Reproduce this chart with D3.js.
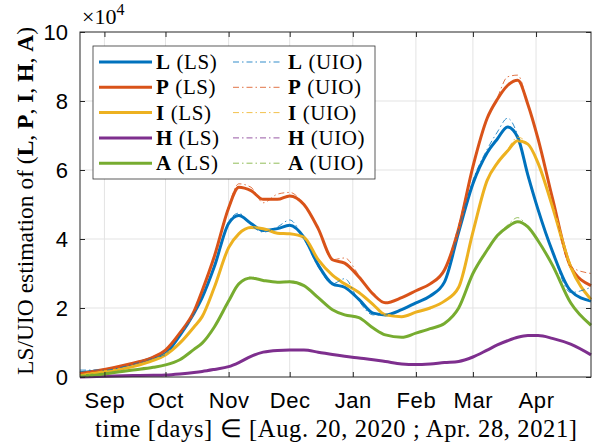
<!DOCTYPE html>
<html><head><meta charset="utf-8">
<script src="https://cdn.jsdelivr.net/npm/d3@7"></script>
<style>body{margin:0;background:#fff} svg{display:block}</style>
</head><body><svg id="c" width="604" height="448"></svg>
<script>
const startDate = "2020-08-20";
const endDate = "2021-04-28";
// days since Aug 20, 2020
const dayOffsets = [0,12,26,36,42,49,56,60,66,73,78,84,90,97,103,110,117,124,130,137,144,150,158,165,172,179,186,193,200,205,210,215,220,225,232,241,251];
const monthTicks = ["2020-09-01","2020-10-01","2020-11-01","2020-12-01","2021-01-01","2021-02-01","2021-03-01","2021-04-01"];
const monthLabels = ["Sep","Oct","Nov","Dec","Jan","Feb","Mar","Apr"];
const yTicks = [0,2,4,6,8,10];
const seriesNames = ["L","P","I","H","A"];
const seriesColors = ["#0072BD","#D95319","#EDB120","#7E2F8E","#77AC30"];
// values in units of 10^4
const L_LS = [0.12,0.2,0.38,0.55,0.68,1.2,1.85,2.3,3.2,4.45,4.68,4.45,4.25,4.3,4.4,4.05,3.25,2.7,2.6,2.25,1.85,1.8,1.95,2.15,2.35,2.75,4.2,5.6,6.5,6.9,7.25,6.95,5.85,4.85,3.65,2.5,2.2];
const P_LS = [0.1,0.22,0.4,0.58,0.78,1.27,1.9,2.5,3.5,4.9,5.5,5.4,5.15,5.15,5.25,5.0,4.3,3.4,3.3,2.9,2.4,2.15,2.3,2.5,2.7,3.1,4.3,6.1,7.5,8.05,8.45,8.6,7.9,6.9,5.2,3.2,2.65];
const I_LS = [0.05,0.15,0.3,0.48,0.64,0.98,1.45,1.75,2.6,3.75,4.15,4.33,4.3,4.17,4.15,4.05,3.4,2.95,2.7,2.45,2.1,1.8,1.75,1.88,2.0,2.2,2.6,4.2,5.7,6.2,6.55,6.85,6.75,6.2,4.95,3.2,2.25];
const H_LS = [0.0,0.02,0.04,0.05,0.06,0.09,0.13,0.16,0.22,0.3,0.42,0.6,0.72,0.77,0.78,0.78,0.72,0.65,0.6,0.55,0.5,0.45,0.38,0.36,0.38,0.42,0.45,0.58,0.78,0.93,1.05,1.15,1.2,1.2,1.12,0.95,0.64];
const A_LS = [0.03,0.09,0.2,0.28,0.35,0.5,0.8,0.98,1.45,2.2,2.7,2.87,2.8,2.75,2.76,2.65,2.3,1.95,1.8,1.72,1.42,1.22,1.15,1.27,1.4,1.55,2.0,3.0,3.68,4.1,4.35,4.5,4.35,3.95,3.25,2.15,1.5];
const L_UIO = [0.2,0.2,0.38,0.55,0.65,1.2,1.85,2.3,3.2,4.5,4.75,4.4,4.2,4.35,4.55,4.0,3.2,2.7,2.85,2.2,1.8,1.8,1.95,2.15,2.35,2.75,4.3,5.7,6.6,7.1,7.5,7.0,5.8,4.85,3.65,2.45,2.6];
const P_UIO = [0.1,0.22,0.4,0.58,0.8,1.27,1.9,2.5,3.5,4.95,5.6,5.5,5.05,5.3,5.35,5.0,4.3,3.4,3.45,2.95,2.4,2.15,2.3,2.5,2.7,3.1,4.4,6.1,7.5,8.1,8.7,8.75,7.9,6.9,5.2,3.2,3.0];
const I_UIO = [0.05,0.15,0.3,0.48,0.64,0.98,1.45,1.75,2.6,3.75,4.15,4.35,4.3,4.17,4.15,4.05,3.4,2.95,2.7,2.45,2.1,1.8,1.75,1.88,2.0,2.2,2.6,4.2,5.7,6.2,6.6,6.95,6.75,6.2,4.95,3.2,2.25];
const H_UIO = [0.0,0.02,0.04,0.05,0.06,0.09,0.13,0.16,0.22,0.3,0.42,0.6,0.72,0.77,0.78,0.78,0.72,0.65,0.6,0.55,0.5,0.45,0.38,0.36,0.38,0.42,0.45,0.58,0.78,0.93,1.05,1.15,1.2,1.2,1.12,0.95,0.64];
const A_UIO = [0.03,0.09,0.2,0.28,0.35,0.5,0.8,0.98,1.45,2.2,2.7,2.9,2.8,2.75,2.78,2.65,2.3,1.95,1.8,1.72,1.42,1.22,1.15,1.27,1.4,1.55,2.0,3.0,3.68,4.1,4.4,4.62,4.35,3.95,3.25,2.15,1.5];
const LS = [L_LS,P_LS,I_LS,H_LS,A_LS];
const UIO = [L_UIO,P_UIO,I_UIO,H_UIO,A_UIO];

const FONT = "'Liberation Serif','Times New Roman',serif";
const svg = d3.select("#c");
const M = {l:80, r:591, t:32, b:377};
const parse = d3.utcParse("%Y-%m-%d");
const t0 = parse(startDate);
const dates = dayOffsets.map(d => d3.utcDay.offset(t0, d));
const x = d3.scaleUtc().domain([t0, parse(endDate)]).range([M.l, M.r]);
const y = d3.scaleLinear().domain([0,10]).range([M.b, M.t]);

// grid
const g = svg.append("g");
g.selectAll(".gx").data(monthTicks).join("line")
  .attr("x1", d=>x(parse(d))).attr("x2", d=>x(parse(d)))
  .attr("y1", M.t).attr("y2", M.b).attr("stroke","#e3e3e3").attr("stroke-width",1);
g.selectAll(".gy").data(yTicks.slice(1,-1)).join("line")
  .attr("x1", M.l).attr("x2", M.r).attr("y1", d=>y(d)).attr("y2", d=>y(d))
  .attr("stroke","#e3e3e3").attr("stroke-width",1);

// lines
const line = d3.line().x((d,i)=>x(dates[i])).y(d=>y(d)).curve(d3.curveMonotoneX);
const plot = svg.append("g");
LS.forEach((s,k)=>{
  plot.append("path").attr("d", line(s)).attr("fill","none")
    .attr("stroke", seriesColors[k]).attr("stroke-width",3).attr("stroke-linejoin","round");
});
UIO.forEach((s,k)=>{
  plot.append("path").attr("d", line(s)).attr("fill","none")
    .attr("stroke", seriesColors[k]).attr("stroke-width",1).attr("stroke-opacity",0.8)
    .attr("stroke-dasharray","6,3,1.5,3");
});

// axes with inward ticks
const ax = svg.append("g").attr("font-family", FONT);
const xb = d3.axisBottom(x).tickValues(monthTicks.map(parse)).tickSize(-5).tickFormat((d,i)=>monthLabels[i]).tickPadding(15);
ax.append("g").attr("transform",`translate(0,${M.b})`).call(xb)
  .call(s=>{s.select(".domain").remove(); s.selectAll("text").attr("font-size",22).attr("letter-spacing","0.6px").attr("fill","#000"); s.selectAll("line").attr("stroke","#262626");});
const xt = d3.axisTop(x).tickValues(monthTicks.map(parse)).tickSize(-5).tickFormat("");
ax.append("g").attr("transform",`translate(0,${M.t})`).call(xt).call(s=>{s.select(".domain").remove(); s.selectAll("line").attr("stroke","#262626");});
const yl = d3.axisLeft(y).tickValues(yTicks).tickSize(-5).tickPadding(12).tickFormat(d3.format("d"));
ax.append("g").attr("transform",`translate(${M.l},0)`).call(yl)
  .call(s=>{s.select(".domain").remove(); s.selectAll("text").attr("font-size",22).attr("fill","#000"); s.selectAll("line").attr("stroke","#262626");});
const yr = d3.axisRight(y).tickValues(yTicks).tickSize(-5).tickFormat("");
ax.append("g").attr("transform",`translate(${M.r},0)`).call(yr).call(s=>{s.select(".domain").remove(); s.selectAll("line").attr("stroke","#262626");});
svg.append("rect").attr("x",M.l).attr("y",M.t).attr("width",M.r-M.l).attr("height",M.b-M.t)
  .attr("fill","none").attr("stroke","#262626").attr("stroke-width",1);

// exponent
const ex = svg.append("text").attr("x",82).attr("y",24).attr("font-family",FONT).attr("font-size",22);
ex.append("tspan").text("×10");
ex.append("tspan").attr("font-size",16).attr("dy",-9).text("4");

// x label
svg.append("text").attr("x",336).attr("y",437).attr("text-anchor","middle")
  .attr("font-family",FONT).attr("font-size",24.5)
  .attr("textLength",482).attr("lengthAdjust","spacing")
  .text("time [days] ∈ [Aug. 20, 2020 ; Apr. 28, 2021]");

// y label
const ylab = svg.append("text").attr("transform","translate(33,201) rotate(-90)").attr("text-anchor","middle")
  .attr("font-family",FONT).attr("font-size",23.5);
ylab.append("tspan").text("LS/UIO estimation of (");
seriesNames.forEach((n,i)=>{
  ylab.append("tspan").attr("font-weight","bold").text(n);
  if(i<seriesNames.length-1) ylab.append("tspan").text(", ");
});
ylab.append("tspan").text(")");

// legend
const lg = svg.append("g").attr("font-family",FONT).attr("font-size",21).attr("letter-spacing","0.6px");
lg.append("rect").attr("x",93).attr("y",46).attr("width",282).attr("height",133)
  .attr("fill","#fff").attr("stroke","#333").attr("stroke-width",0.8);
seriesNames.forEach((n,i)=>{
  const cy = 62 + i*25.3;
  lg.append("line").attr("x1",99).attr("x2",152).attr("y1",cy).attr("y2",cy)
    .attr("stroke",seriesColors[i]).attr("stroke-width",3);
  const t1 = lg.append("text").attr("x",156).attr("y",cy+7);
  t1.append("tspan").attr("font-weight","bold").text(n);
  t1.append("tspan").text(" (LS)");
  lg.append("line").attr("x1",233).attr("x2",282).attr("y1",cy).attr("y2",cy)
    .attr("stroke",seriesColors[i]).attr("stroke-width",1).attr("stroke-opacity",0.8).attr("stroke-dasharray","6,3,1.5,3");
  const t2 = lg.append("text").attr("x",288).attr("y",cy+7);
  t2.append("tspan").attr("font-weight","bold").text(n);
  t2.append("tspan").text(" (UIO)");
});
</script></body></html>
